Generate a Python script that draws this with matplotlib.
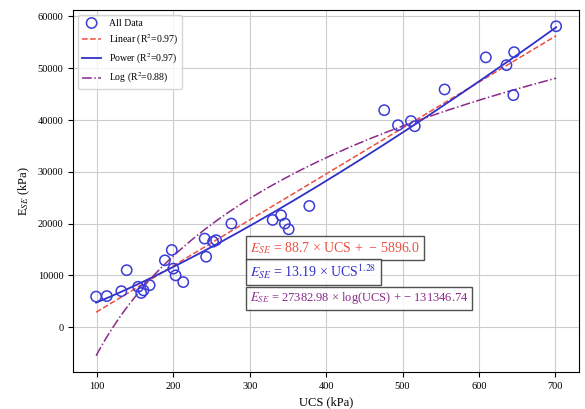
import numpy as np
import matplotlib
matplotlib.use("Agg")
import matplotlib.pyplot as plt

plt.rcParams["font.family"] = "Liberation Serif"
plt.rcParams["mathtext.fontset"] = "stix"

# measured points
ucs = [99, 113, 132, 139, 154, 158, 161, 169, 189, 198, 200, 203, 213,
       241, 243, 252, 256, 276, 330, 341, 346, 351, 378, 476, 494, 511,
       516, 555, 609, 636, 646, 645, 701]
ese = [5900, 6000, 6950, 11000, 7800, 6600, 7100, 8100, 12900, 14900, 11300,
       10000, 8700, 17100, 13600, 16500, 16800, 20000, 20700, 21600, 20000,
       18900, 23400, 41900, 39000, 39800, 38800, 45900, 52100, 50600, 53100,
       44800, 58100]

# fitted models
lin_a, lin_b = 88.7, -5896.0
pow_a, pow_b = 13.19, 1.28
log_a, log_b = 27382.98, -131346.74
r2_lin, r2_pow, r2_log = 0.97, 0.97, 0.88

x = np.array(ucs, dtype=float)
xs = np.linspace(x.min(), x.max(), 300)

fig = plt.figure(figsize=(5.85, 4.09), dpi=100)
ax = fig.add_axes([0.125, 0.09, 0.865, 0.886])

ax.scatter(ucs, ese, s=55, facecolors="none", edgecolors="#3b3bd9",
           linewidths=1.1, label="All Data", zorder=3)
ax.plot(xs, lin_a * xs + lin_b, "--", color="#ec5040", lw=1.1,
        label=f"Linear (R$^2$={r2_lin:.2f})")
ax.plot(xs, pow_a * xs ** pow_b, "-", color="#3030c8", lw=1.3,
        label=f"Power (R$^2$={r2_pow:.2f})")
ax.plot(xs, log_a * np.log(xs) + log_b, "-.", color="#8a2a8a", lw=1.1,
        label=f"Log (R$^2$={r2_log:.2f})")

box = dict(boxstyle="square,pad=0.3", facecolor="white", edgecolor="#333333",
           alpha=0.85, lw=1.0)
eq_lin = rf"$E_{{SE}}$ = {lin_a} × UCS +  − {abs(lin_b):.1f}"
eq_pow = rf"$E_{{SE}}$ = {pow_a} × UCS$^{{{pow_b}}}$"
eq_log = rf"$E_{{SE}}$ = {log_a} × log(UCS) + − {abs(log_b)}"
ax.text(0.35, 0.343, eq_lin, transform=ax.transAxes, color="#ec5040",
        fontsize=10, va="center", bbox=box)
ax.text(0.35, 0.276, eq_pow, transform=ax.transAxes, color="#3030c8",
        fontsize=10, va="center", bbox=box)
ax.text(0.35, 0.204, eq_log, transform=ax.transAxes, color="#8a2a8a",
        fontsize=9, va="center", bbox=box)

ax.set_xlabel("UCS (kPa)", fontsize=9)
ax.set_ylabel(r"E$_{SE}$ (kPa)", fontsize=9)
ax.tick_params(labelsize=7.5)
ax.grid(True, color="#cccccc", lw=0.8)
ax.set_axisbelow(True)
ax.legend(loc="upper left", fontsize=7, framealpha=0.8)

fig.savefig("out.png", dpi=100)
